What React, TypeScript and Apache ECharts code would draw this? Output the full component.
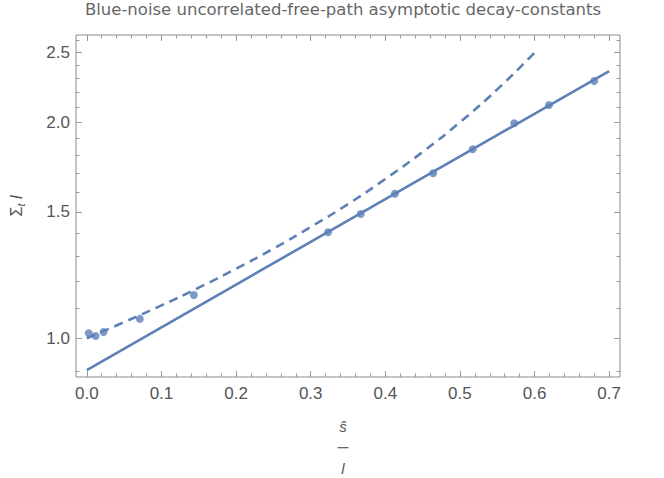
import React, { useEffect, useRef } from 'react';
import * as echarts from 'echarts';

// ---- data ----
const sHat = [0.0026, 0.0118, 0.0224, 0.071, 0.1434, 0.3233, 0.3671, 0.4128, 0.4641, 0.5171, 0.5728, 0.6193, 0.6799];
const sigmaT = [1.016, 1.007, 1.02, 1.064, 1.149, 1.405, 1.49, 1.59, 1.698, 1.834, 1.993, 2.114, 2.283];

const fitS = [0, 0.7];
const fitSigma = [0.903, 2.357];

const curveS = [0, 0.05, 0.1, 0.15, 0.2, 0.25, 0.3, 0.35, 0.4, 0.45, 0.5, 0.55, 0.6];
const curveSigma = [1.0, 1.053, 1.111, 1.176, 1.25, 1.333, 1.429, 1.538, 1.667, 1.818, 2.0, 2.222, 2.5];

const xMajorTicks = [0, 0.1, 0.2, 0.3, 0.4, 0.5, 0.6, 0.7];
const xMinorTicks = [0.02, 0.04, 0.06, 0.08, 0.12, 0.14, 0.16, 0.18, 0.22, 0.24, 0.26, 0.28, 0.32, 0.34, 0.36, 0.38, 0.42, 0.44, 0.46, 0.48, 0.52, 0.54, 0.56, 0.58, 0.62, 0.64, 0.66, 0.68];
const yMajorTicks = [1.0, 1.5, 2.0, 2.5];
const yMinorTicks = [0.9, 1.1, 1.2, 1.3, 1.4, 1.6, 1.7, 1.8, 1.9, 2.1, 2.2, 2.3, 2.4, 2.6];

const X_MIN = -0.0145;
const X_MAX = 0.7145;
const Y_MIN = 0.883;
const Y_MAX = 2.646;

const TITLE = 'Blue-noise uncorrelated-free-path asymptotic decay-constants';

const BLUE = '#5E81B5';
const TEXT = '#555555';
const TICK = '#999999';
const FONT = 'Liberation Sans';

function xAxisDef(position: 'top' | 'bottom', ticks: number[], len: number, labels: boolean) {
  return {
    type: 'value',
    position,
    min: X_MIN,
    max: X_MAX,
    axisLine: { show: false, onZero: false },
    splitLine: { show: false },
    axisTick: { show: true, inside: true, length: len, customValues: ticks, lineStyle: { color: TICK, width: 1 } },
    axisLabel: labels
      ? { show: true, customValues: ticks, margin: 8, color: TEXT, fontSize: 17, fontFamily: FONT, formatter: (v: number) => v.toFixed(1) }
      : { show: false },
  };
}

function yAxisDef(position: 'left' | 'right', ticks: number[], len: number, labels: boolean) {
  const base: any = {
    type: 'value',
    position,
    min: Math.log(Y_MIN),
    max: Math.log(Y_MAX),
    axisLine: { show: false, onZero: false },
    splitLine: { show: false },
    axisTick: { show: true, inside: true, length: len, customValues: ticks.map(Math.log), lineStyle: { color: TICK, width: 1 } },
    axisLabel: labels
      ? { show: true, customValues: ticks.map(Math.log), margin: 6, color: TEXT, fontSize: 17, fontFamily: FONT, formatter: (v: number) => Math.exp(v).toFixed(1) }
      : { show: false },
  };
  if (labels) {
    base.name = '{s|Σ}{t|t} {l|l}';
    base.nameLocation = 'middle';
    base.nameGap = 50;
    base.nameTextStyle = {
      color: TEXT,
      fontFamily: FONT,
      fontSize: 16,
      rich: {
        s: { fontSize: 16, color: TEXT, fontFamily: FONT, lineHeight: 20, verticalAlign: 'middle' },
        t: { fontSize: 11, color: TEXT, fontFamily: FONT, fontStyle: 'italic', lineHeight: 11, verticalAlign: 'bottom' },
        l: { fontSize: 16, color: TEXT, fontFamily: FONT, fontStyle: 'italic', lineHeight: 20, verticalAlign: 'middle' },
      },
    };
  }
  return base;
}

export default function App() {
  const ref = useRef<HTMLDivElement>(null);

  useEffect(() => {
    if (!ref.current) return;
    const chart = echarts.init(ref.current, undefined, { renderer: 'svg' });

    const points = sHat.map((s, i) => [s, Math.log(sigmaT[i])]);
    const fit = fitS.map((s, i) => [s, Math.log(fitSigma[i])]);
    const curve = curveS.map((s, i) => [s, Math.log(curveSigma[i])]);

    chart.setOption({
      animation: false,
      backgroundColor: '#ffffff',
      title: {
        text: TITLE,
        left: 343,
        top: 1,
        textAlign: 'center',
        padding: 0,
        textStyle: { fontSize: 16.5, fontWeight: 'normal', color: '#666666', fontFamily: 'DejaVu Sans' },
      },
      grid: {
        left: 66,
        top: 35,
        width: 554,
        height: 342,
        show: true,
        borderColor: '#888888',
        borderWidth: 1,
        backgroundColor: 'transparent',
        containLabel: false,
      },
      xAxis: [
        xAxisDef('bottom', xMajorTicks, 6, true),
        xAxisDef('bottom', xMinorTicks, 3.5, false),
        xAxisDef('top', xMajorTicks, 6, false),
        xAxisDef('top', xMinorTicks, 3.5, false),
      ],
      yAxis: [
        yAxisDef('left', yMajorTicks, 6, true),
        yAxisDef('left', yMinorTicks, 3.5, false),
        yAxisDef('right', yMajorTicks, 6, false),
        yAxisDef('right', yMinorTicks, 3.5, false),
      ],
      series: [
        {
          name: 'fit',
          type: 'line',
          data: fit,
          showSymbol: false,
          lineStyle: { color: BLUE, width: 2.6 },
          z: 2,
        },
        {
          name: 'asymptote',
          type: 'line',
          data: curve,
          smooth: true,
          showSymbol: false,
          lineStyle: { color: BLUE, width: 2.6, type: [9, 6] },
          z: 2,
        },
        {
          name: 'measured',
          type: 'scatter',
          data: points,
          symbol: 'circle',
          symbolSize: 8,
          itemStyle: { color: BLUE },
          z: 3,
        },
      ],
      graphic: [
        {
          type: 'text',
          x: 343,
          y: 426.5,
          style: { text: 'ŝ', fill: TEXT, font: 'italic 15px "Liberation Sans"', textAlign: 'center', textVerticalAlign: 'middle' },
        },
        {
          type: 'line',
          shape: { x1: 337.5, y1: 447.7, x2: 348.5, y2: 447.7 },
          style: { stroke: TEXT, lineWidth: 1.2 },
        },
        {
          type: 'text',
          x: 343,
          y: 468,
          style: { text: 'l', fill: TEXT, font: 'italic 15px "Liberation Sans"', textAlign: 'center', textVerticalAlign: 'middle' },
        },
      ],
    });

    return () => chart.dispose();
  }, []);

  return <div ref={ref} style={{ position: 'fixed', left: 0, top: 0, width: 664, height: 478 }} />;
}
